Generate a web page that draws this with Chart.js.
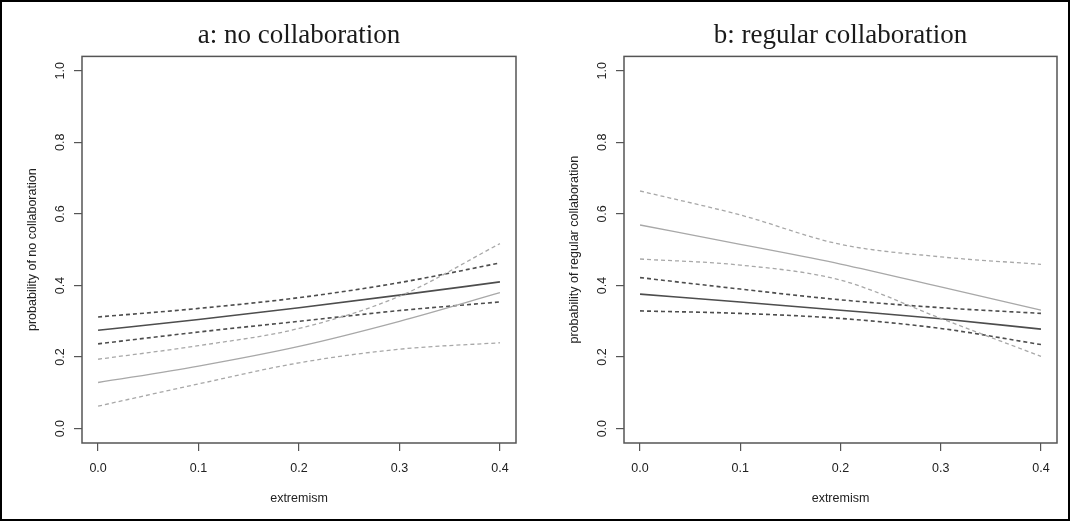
<!DOCTYPE html>
<html>
<head>
<meta charset="utf-8">
<script src="https://cdn.jsdelivr.net/npm/chart.js@4"></script>
<style>
  body { margin: 0; background: #fff; }
  #frame { position: absolute; left: 0; top: 0; width: 1070px; height: 521px; box-sizing: border-box; border: 2px solid #000; }
  .panel { position: absolute; top: 0; width: 535px; height: 521px; }
  #pa { left: 0; }
  #pb { left: 535px; }
</style>
</head>
<body>
<div id="frame"></div>
<div class="panel" id="pa"><canvas id="chartA"></canvas></div>
<div class="panel" id="pb"><canvas id="chartB"></canvas></div>
<script>
// extremism values where the curves were read
const extremism = [0, 0.1, 0.2, 0.3, 0.4];
const xTicks = [0, 0.1, 0.2, 0.3, 0.4];
const yTicks = [0, 0.2, 0.4, 0.6, 0.8, 1.0];

// panel a: probability of no collaboration
const aDarkMean  = [0.275, 0.305, 0.338, 0.373, 0.410];
const aDarkHigh  = [0.312, 0.336, 0.366, 0.408, 0.463];
const aDarkLow   = [0.237, 0.270, 0.300, 0.330, 0.354];
const aLightMean = [0.129, 0.175, 0.230, 0.300, 0.380];
const aLightHigh = [0.194, 0.232, 0.280, 0.370, 0.517];
const aLightLow  = [0.063, 0.125, 0.184, 0.222, 0.240];

// panel b: probability of regular collaboration
const bDarkMean  = [0.376, 0.354, 0.331, 0.307, 0.278];
const bDarkHigh  = [0.422, 0.390, 0.360, 0.338, 0.322];
const bDarkLow   = [0.329, 0.322, 0.308, 0.280, 0.235];
const bLightMean = [0.569, 0.515, 0.460, 0.396, 0.331];
const bLightHigh = [0.664, 0.597, 0.515, 0.480, 0.459];
const bLightLow  = [0.474, 0.457, 0.415, 0.308, 0.202];

const DARK = '#4d4d4d';
const LIGHT = '#a8a8a8';
const AXIS = '#555';

function line(values, color, dashed, width) {
    return {
        data: extremism.map((x, i) => ({ x: x, y: values[i] })),
        borderColor: color,
        borderWidth: width,
        borderDash: dashed ? [4, 3] : [],
        pointRadius: 0,
        fill: false,
        cubicInterpolationMode: 'monotone'
    };
}

// R-style box around the plotting region
const boxPlugin = {
    id: 'box',
    afterDraw(chart) {
        const a = chart.chartArea;
        const c = chart.ctx;
        c.save();
        c.strokeStyle = AXIS;
        c.lineWidth = 1.5;
        c.strokeRect(a.left, a.top, a.right - a.left, a.bottom - a.top);
        c.restore();
    }
};

function makeChart(id, title, yLabel, series, yWidth, yTitlePad, padRight) {
    const font = { family: '"Liberation Sans", Arial, sans-serif', size: 12.5 };
    return new Chart(document.getElementById(id), {
        type: 'line',
        data: {
            datasets: [
                line(series[3], LIGHT, false, 1.3),
                line(series[4], LIGHT, true, 1.3),
                line(series[5], LIGHT, true, 1.3),
                line(series[0], DARK, false, 1.6),
                line(series[1], DARK, true, 1.6),
                line(series[2], DARK, true, 1.6)
            ]
        },
        options: {
            responsive: true, maintainAspectRatio: false,
            animation: false,
            layout: { padding: { left: 0, right: padRight, top: 0, bottom: 0 } },
            scales: {
                x: {
                    type: 'linear', min: -0.016, max: 0.416,
                    afterBuildTicks: axis => { axis.ticks = xTicks.map(v => ({ value: v })); },
                    afterFit: axis => { axis.height = 78; },
                    grid: { drawOnChartArea: false, drawTicks: true, tickLength: 8, color: AXIS, lineWidth: 1.2 },
                    border: { display: false },
                    ticks: { color: '#222', font: font, padding: 10, maxRotation: 0, callback: v => v.toFixed(1) },
                    title: { display: true, text: 'extremism', color: '#222', font: font, padding: { top: 0, bottom: 15 } }
                },
                y: {
                    type: 'linear', min: -0.04, max: 1.04,
                    afterBuildTicks: axis => { axis.ticks = yTicks.map(v => ({ value: v })); },
                    afterFit: axis => { axis.width = yWidth; },
                    grid: { drawOnChartArea: false, drawTicks: true, tickLength: 8, color: AXIS, lineWidth: 1.2 },
                    border: { display: false },
                    ticks: { color: '#222', font: font, padding: 5, minRotation: 90, maxRotation: 90, crossAlign: 'center', callback: v => v.toFixed(1) },
                    title: { display: true, text: yLabel, color: '#222', font: font, padding: { top: yTitlePad, bottom: 0 } }
                }
            },
            plugins: {
                legend: { display: false },
                tooltip: { enabled: false },
                title: {
                    display: true, text: title, fullSize: false, color: '#1a1a1a',
                    font: { family: '"Liberation Serif", "Times New Roman", serif', size: 27, weight: 'normal' },
                    padding: { top: 20, bottom: 4 }
                }
            }
        },
        plugins: [boxPlugin]
    });
}

makeChart('chartA', 'a: no collaboration', 'probability of no collaboration',
    [aDarkMean, aDarkHigh, aDarkLow, aLightMean, aLightHigh, aLightLow], 82, 25, 19);
makeChart('chartB', 'b: regular collaboration', 'probability of regular collaboration',
    [bDarkMean, bDarkHigh, bDarkLow, bLightMean, bLightHigh, bLightLow], 89, 32, 13);
</script>
</body>
</html>
